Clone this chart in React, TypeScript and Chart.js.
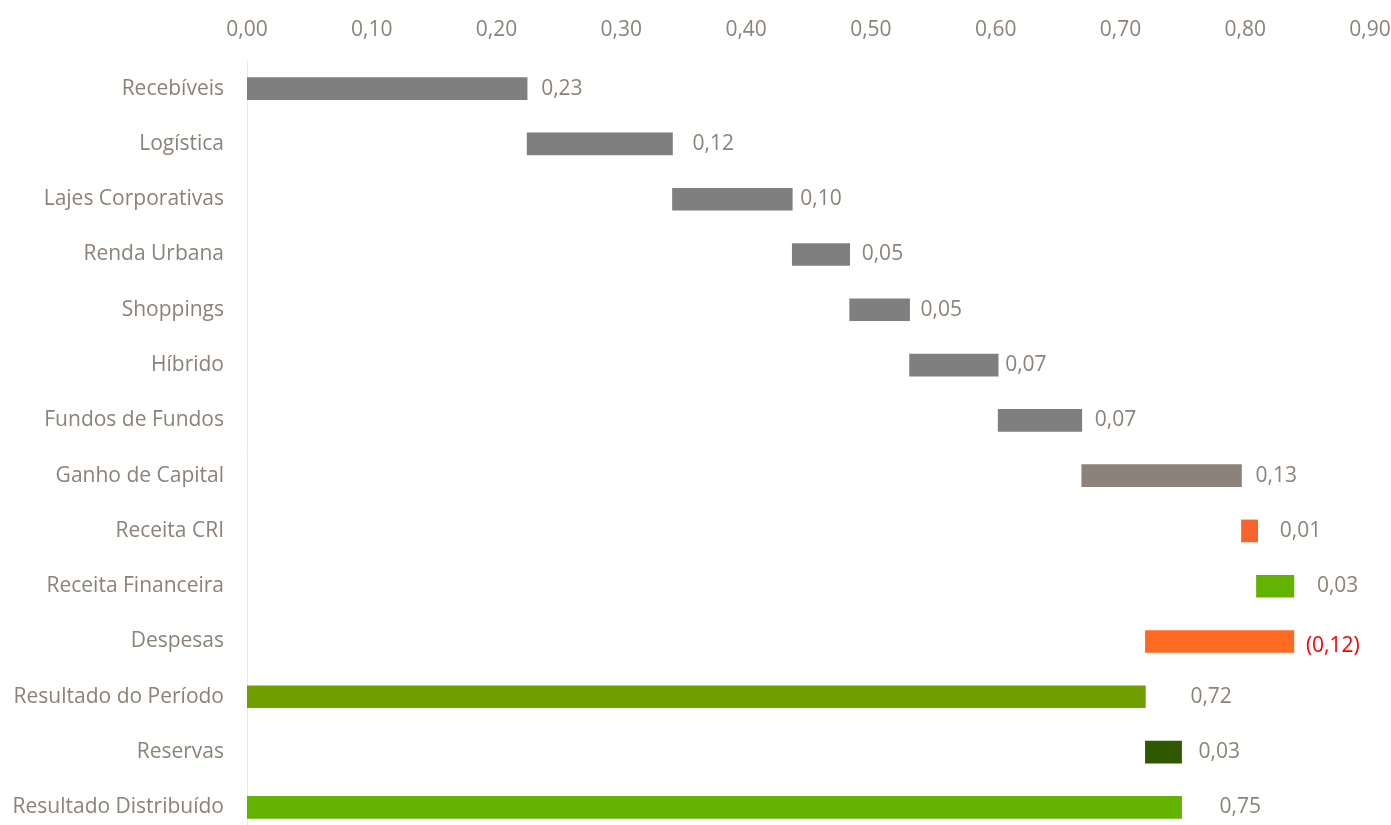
import React, { useEffect, useRef } from "react";
import { Chart, registerables } from "chart.js";

Chart.register(...registerables);

const categories = [
  "Recebíveis",
  "Logística",
  "Lajes Corporativas",
  "Renda Urbana",
  "Shoppings",
  "Híbrido",
  "Fundos de Fundos",
  "Ganho de Capital",
  "Receita CRI",
  "Receita Financeira",
  "Despesas",
  "Resultado do Período",
  "Reservas",
  "Resultado Distribuído",
];

const barStart = [0, 0.2245, 0.341, 0.437, 0.483, 0.531, 0.602, 0.669, 0.797, 0.809, 0.72, 0, 0.72, 0];
const barEnd = [0.2245, 0.341, 0.437, 0.483, 0.531, 0.602, 0.669, 0.797, 0.81, 0.839, 0.839, 0.72, 0.749, 0.749];

const valueLabels = ["0,23", "0,12", "0,10", "0,05", "0,05", "0,07", "0,07", "0,13", "0,01", "0,03", "(0,12)", "0,72", "0,03", "0,75"];

const xTicks = [0, 0.1, 0.2, 0.3, 0.4, 0.5, 0.6, 0.7, 0.8, 0.9];

const barColors = [
  "#7f7f7f", "#7f7f7f", "#7f7f7f", "#7f7f7f", "#7f7f7f", "#7f7f7f", "#7f7f7f",
  "#8c8279", "#f7642b", "#63b200", "#ff6a21", "#6fa000", "#2f5800", "#63b300",
];

const labelColors = [
  "#8c8279", "#8c8279", "#8c8279", "#8c8279", "#8c8279", "#8c8279", "#8c8279",
  "#8c8279", "#8c8279", "#8c8279", "#ff0000", "#8c8279", "#8c8279", "#8c8279",
];

const labelGaps = [14, 20, 8, 12, 11, 7, 13, 14, 22, 23, 12, 45, 17, 38];

const FONT = "'Open Sans', sans-serif";
const TEXT = "#8c8279";

const labelPlugin = {
  id: "barValueLabels",
  afterDatasetsDraw(chart: any) {
    const ctx = chart.ctx;
    const meta = chart.getDatasetMeta(0);
    const xs = chart.scales.x;
    ctx.save();
    ctx.font = `21px ${FONT}`;
    ctx.textAlign = "left";
    ctx.textBaseline = "middle";
    meta.data.forEach((bar: any, i: number) => {
      const x = xs.getPixelForValue(barEnd[i]) + labelGaps[i];
      const y = bar.y + (i === 10 ? 5 : 0);
      ctx.fillStyle = labelColors[i];
      ctx.fillText(valueLabels[i], x, y);
    });
    ctx.restore();
  },
};

export default function App() {
  const ref = useRef<HTMLCanvasElement | null>(null);
  useEffect(() => {
    if (!ref.current) return;
    const chart = new Chart(ref.current, {
      type: "bar",
      data: {
        labels: categories,
        datasets: [
          {
            data: categories.map((_, i) => [barStart[i], barEnd[i]]) as any,
            backgroundColor: barColors,
            borderWidth: 0,
            barThickness: 22,
          },
        ],
      },
      options: {
        indexAxis: "y",
        animation: false,
        responsive: false,
        maintainAspectRatio: false,
        layout: { padding: { left: 0, right: 21, top: 0, bottom: 1 } },
        plugins: {
          legend: { display: false },
          tooltip: { enabled: false },
        },
        scales: {
          x: {
            position: "top",
            min: 0,
            max: 0.9,
            afterBuildTicks: (s: any) => {
              s.ticks = xTicks.map((v) => ({ value: v }));
            },
            afterFit: (s: any) => {
              s.height = 61;
              s.paddingLeft = 0;
              s.paddingRight = 0;
            },
            grid: { display: false, drawTicks: false },
            border: { display: false },
            ticks: {
              color: TEXT,
              font: { family: FONT, size: 21 },
              padding: 18,
              maxRotation: 0,
              callback: (v: any) => Number(v).toFixed(2).replace(".", ","),
            },
          },
          y: {
            afterFit: (s: any) => {
              s.width = 247;
              s.paddingTop = 0;
              s.paddingBottom = 0;
            },
            grid: { display: false, drawTicks: false },
            border: { display: true, color: "#e8e8e8", width: 1 },
            ticks: {
              color: TEXT,
              font: { family: FONT, size: 21 },
              padding: 23,
            },
          },
        },
      },
      plugins: [labelPlugin],
    });
    return () => chart.destroy();
  }, []);
  return (
    <div style={{ position: "absolute", left: 0, top: 0, width: 1391, height: 836, background: "#fff" }}>
      <canvas ref={ref} width={1391} height={836} style={{ display: "block" }} />
    </div>
  );
}
